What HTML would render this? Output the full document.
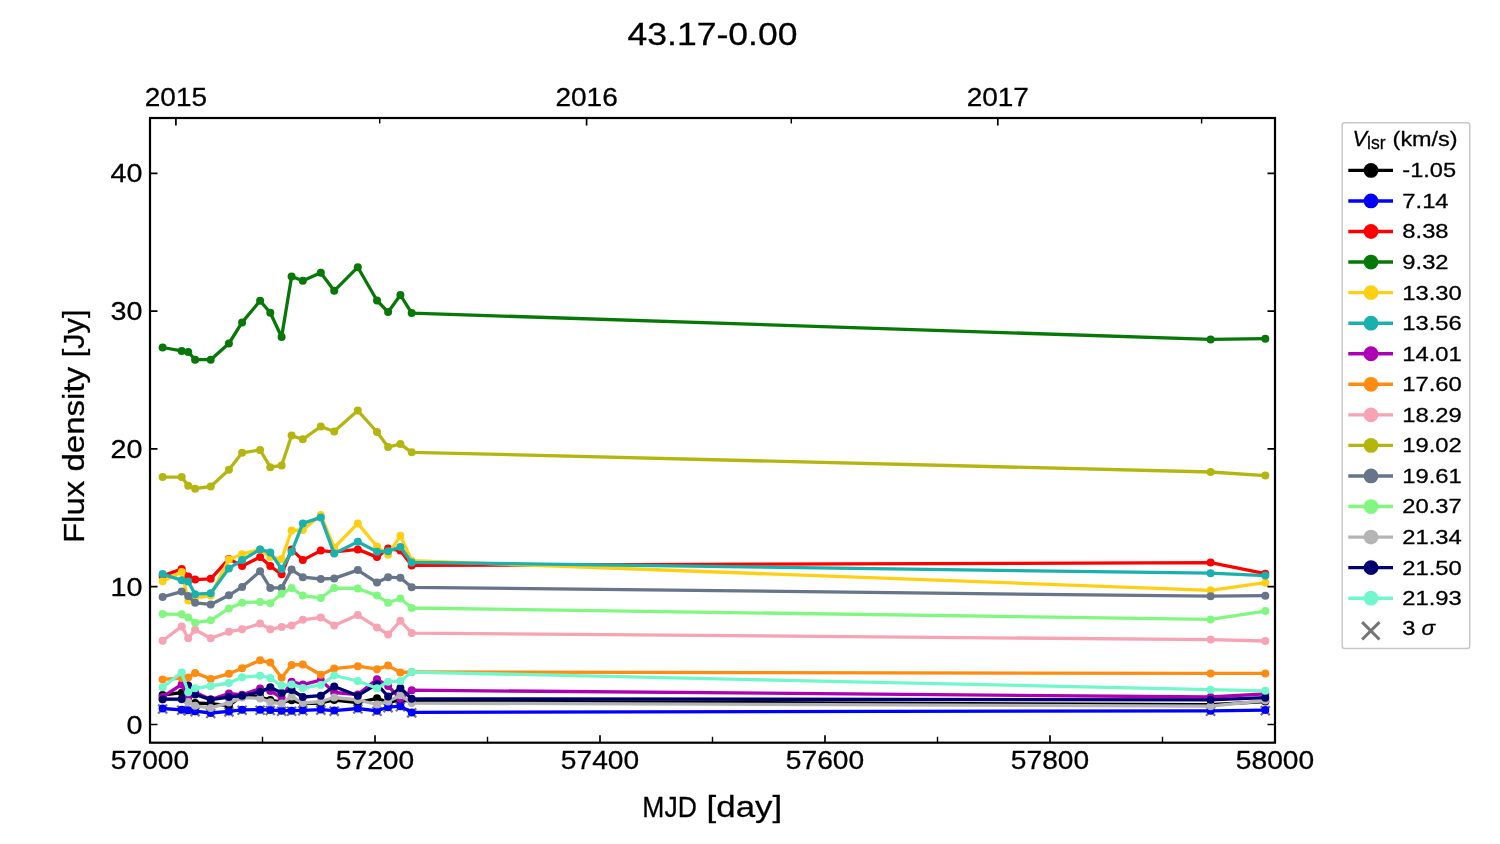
<!DOCTYPE html>
<html><head><meta charset="utf-8"><style>html,body{margin:0;padding:0;background:#fff;width:1500px;height:844px;overflow:hidden}</style></head>
<body>
<svg width="1500" height="844" viewBox="0 0 1500 844" style="display:block;will-change:transform">
<rect x="0" y="0" width="1500" height="844" fill="#ffffff"/>
<defs><clipPath id="ax"><rect x="150" y="118" width="1125" height="624.7"/></clipPath></defs>
<g clip-path="url(#ax)">
<path d="M158.1 704.5L167.1 713.5M158.1 713.5L167.1 704.5M177.2 705.8L186.2 714.8M177.2 714.8L186.2 705.8M183.7 706.2L192.7 715.2M183.7 715.2L192.7 706.2M190.6 707.2L199.6 716.2M190.6 716.2L199.6 707.2M206.2 709L215.2 718M206.2 718L215.2 709M224.4 707.4L233.4 716.4M224.4 716.4L233.4 707.4M237.6 705.8L246.6 714.8M237.6 714.8L246.6 705.8M255.6 705.7L264.6 714.7M255.6 714.7L264.6 705.7M265.8 706L274.8 715M265.8 715L274.8 706M277.1 706.7L286.1 715.7M277.1 715.7L286.1 706.7M287.1 706.7L296.1 715.7M287.1 715.7L296.1 706.7M298.3 706.3L307.3 715.3M298.3 715.3L307.3 706.3M316.3 705.6L325.3 714.6M316.3 714.6L325.3 705.6M329.7 706.6L338.7 715.6M329.7 715.6L338.7 706.6M353.3 704.5L362.3 713.5M353.3 713.5L362.3 704.5M372.5 706.8L381.5 715.8M372.5 715.8L381.5 706.8M383.6 703.2L392.6 712.2M383.6 712.2L392.6 703.2M395.9 702.2L404.9 711.2M395.9 711.2L404.9 702.2M407.2 708.4L416.2 717.4M407.2 717.4L416.2 708.4M1206.1 706.8L1215.1 715.8M1206.1 715.8L1215.1 706.8M1260.8 706.1L1269.8 715.1M1260.8 715.1L1269.8 706.1" stroke="#757575" stroke-width="2.3" fill="none"/>
<polyline points="162.6,695 181.7,692.7 188.2,701.3 195.1,703 210.7,703.7 228.9,705.7 242.1,695.5 260.1,697 270.3,700 281.6,702 291.6,700.3 302.8,703.5 320.8,703 334.2,700 357.8,702.7 377,698.3 388.1,702.3 400.4,700 411.7,701 1210.6,704.7 1265.3,701.6" fill="none" stroke="#000000" stroke-width="3.3" stroke-linejoin="round" stroke-linecap="butt"/>
<g fill="#000000"><circle cx="162.6" cy="695" r="4.0"/><circle cx="181.7" cy="692.7" r="4.0"/><circle cx="188.2" cy="701.3" r="4.0"/><circle cx="195.1" cy="703" r="4.0"/><circle cx="210.7" cy="703.7" r="4.0"/><circle cx="228.9" cy="705.7" r="4.0"/><circle cx="242.1" cy="695.5" r="4.0"/><circle cx="260.1" cy="697" r="4.0"/><circle cx="270.3" cy="700" r="4.0"/><circle cx="281.6" cy="702" r="4.0"/><circle cx="291.6" cy="700.3" r="4.0"/><circle cx="302.8" cy="703.5" r="4.0"/><circle cx="320.8" cy="703" r="4.0"/><circle cx="334.2" cy="700" r="4.0"/><circle cx="357.8" cy="702.7" r="4.0"/><circle cx="377" cy="698.3" r="4.0"/><circle cx="388.1" cy="702.3" r="4.0"/><circle cx="400.4" cy="700" r="4.0"/><circle cx="411.7" cy="701" r="4.0"/><circle cx="1210.6" cy="704.7" r="4.0"/><circle cx="1265.3" cy="701.6" r="4.0"/></g>
<polyline points="162.6,708.5 181.7,709.8 188.2,710.2 195.1,711.2 210.7,713 228.9,711.4 242.1,709.8 260.1,709.7 270.3,710 281.6,710.7 291.6,710.7 302.8,710.3 320.8,709.6 334.2,710.6 357.8,708.5 377,710.8 388.1,707.2 400.4,706.2 411.7,712.4 1210.6,710.8 1265.3,710.1" fill="none" stroke="#0000ff" stroke-width="3.3" stroke-linejoin="round" stroke-linecap="butt"/>
<g fill="#0000ff"><circle cx="162.6" cy="708.5" r="4.0"/><circle cx="181.7" cy="709.8" r="4.0"/><circle cx="188.2" cy="710.2" r="4.0"/><circle cx="195.1" cy="711.2" r="4.0"/><circle cx="210.7" cy="713" r="4.0"/><circle cx="228.9" cy="711.4" r="4.0"/><circle cx="242.1" cy="709.8" r="4.0"/><circle cx="260.1" cy="709.7" r="4.0"/><circle cx="270.3" cy="710" r="4.0"/><circle cx="281.6" cy="710.7" r="4.0"/><circle cx="291.6" cy="710.7" r="4.0"/><circle cx="302.8" cy="710.3" r="4.0"/><circle cx="320.8" cy="709.6" r="4.0"/><circle cx="334.2" cy="710.6" r="4.0"/><circle cx="357.8" cy="708.5" r="4.0"/><circle cx="377" cy="710.8" r="4.0"/><circle cx="388.1" cy="707.2" r="4.0"/><circle cx="400.4" cy="706.2" r="4.0"/><circle cx="411.7" cy="712.4" r="4.0"/><circle cx="1210.6" cy="710.8" r="4.0"/><circle cx="1265.3" cy="710.1" r="4.0"/></g>
<polyline points="162.6,575.9 181.7,569 188.2,576.6 195.1,579.6 210.7,578.8 228.9,558.9 242.1,566 260.1,557.1 270.3,566 281.6,574.3 291.6,549.4 302.8,560.1 320.8,550.6 334.2,551.8 357.8,549.4 377,557.1 388.1,548.5 400.4,550.6 411.7,565.4 1210.6,562.6 1265.3,573.7" fill="none" stroke="#ff0000" stroke-width="3.3" stroke-linejoin="round" stroke-linecap="butt"/>
<g fill="#ff0000"><circle cx="162.6" cy="575.9" r="4.0"/><circle cx="181.7" cy="569" r="4.0"/><circle cx="188.2" cy="576.6" r="4.0"/><circle cx="195.1" cy="579.6" r="4.0"/><circle cx="210.7" cy="578.8" r="4.0"/><circle cx="228.9" cy="558.9" r="4.0"/><circle cx="242.1" cy="566" r="4.0"/><circle cx="260.1" cy="557.1" r="4.0"/><circle cx="270.3" cy="566" r="4.0"/><circle cx="281.6" cy="574.3" r="4.0"/><circle cx="291.6" cy="549.4" r="4.0"/><circle cx="302.8" cy="560.1" r="4.0"/><circle cx="320.8" cy="550.6" r="4.0"/><circle cx="334.2" cy="551.8" r="4.0"/><circle cx="357.8" cy="549.4" r="4.0"/><circle cx="377" cy="557.1" r="4.0"/><circle cx="388.1" cy="548.5" r="4.0"/><circle cx="400.4" cy="550.6" r="4.0"/><circle cx="411.7" cy="565.4" r="4.0"/><circle cx="1210.6" cy="562.6" r="4.0"/><circle cx="1265.3" cy="573.7" r="4.0"/></g>
<polyline points="162.6,347.5 181.7,350.9 188.2,352 195.1,359.7 210.7,359.7 228.9,343.5 242.1,322.4 260.1,300.8 270.3,312.8 281.6,337 291.6,276.5 302.8,280.8 320.8,272.8 334.2,290.8 357.8,267.2 377,300.5 388.1,312.1 400.4,295 411.7,313.1 1210.6,339.4 1265.3,338.7" fill="none" stroke="#067806" stroke-width="3.3" stroke-linejoin="round" stroke-linecap="butt"/>
<g fill="#067806"><circle cx="162.6" cy="347.5" r="4.0"/><circle cx="181.7" cy="350.9" r="4.0"/><circle cx="188.2" cy="352" r="4.0"/><circle cx="195.1" cy="359.7" r="4.0"/><circle cx="210.7" cy="359.7" r="4.0"/><circle cx="228.9" cy="343.5" r="4.0"/><circle cx="242.1" cy="322.4" r="4.0"/><circle cx="260.1" cy="300.8" r="4.0"/><circle cx="270.3" cy="312.8" r="4.0"/><circle cx="281.6" cy="337" r="4.0"/><circle cx="291.6" cy="276.5" r="4.0"/><circle cx="302.8" cy="280.8" r="4.0"/><circle cx="320.8" cy="272.8" r="4.0"/><circle cx="334.2" cy="290.8" r="4.0"/><circle cx="357.8" cy="267.2" r="4.0"/><circle cx="377" cy="300.5" r="4.0"/><circle cx="388.1" cy="312.1" r="4.0"/><circle cx="400.4" cy="295" r="4.0"/><circle cx="411.7" cy="313.1" r="4.0"/><circle cx="1210.6" cy="339.4" r="4.0"/><circle cx="1265.3" cy="338.7" r="4.0"/></g>
<polyline points="162.6,581.2 181.7,572.1 188.2,600.5 195.1,597.8 210.7,595.6 228.9,559.5 242.1,554.2 260.1,549.4 270.3,557.1 281.6,559.2 291.6,530.5 302.8,529.9 320.8,515.1 334.2,547.6 357.8,523.4 377,546.5 388.1,554.7 400.4,535.8 411.7,560.7 1210.6,590.3 1265.3,582.7" fill="none" stroke="#ffcf14" stroke-width="3.3" stroke-linejoin="round" stroke-linecap="butt"/>
<g fill="#ffcf14"><circle cx="162.6" cy="581.2" r="4.0"/><circle cx="181.7" cy="572.1" r="4.0"/><circle cx="188.2" cy="600.5" r="4.0"/><circle cx="195.1" cy="597.8" r="4.0"/><circle cx="210.7" cy="595.6" r="4.0"/><circle cx="228.9" cy="559.5" r="4.0"/><circle cx="242.1" cy="554.2" r="4.0"/><circle cx="260.1" cy="549.4" r="4.0"/><circle cx="270.3" cy="557.1" r="4.0"/><circle cx="281.6" cy="559.2" r="4.0"/><circle cx="291.6" cy="530.5" r="4.0"/><circle cx="302.8" cy="529.9" r="4.0"/><circle cx="320.8" cy="515.1" r="4.0"/><circle cx="334.2" cy="547.6" r="4.0"/><circle cx="357.8" cy="523.4" r="4.0"/><circle cx="377" cy="546.5" r="4.0"/><circle cx="388.1" cy="554.7" r="4.0"/><circle cx="400.4" cy="535.8" r="4.0"/><circle cx="411.7" cy="560.7" r="4.0"/><circle cx="1210.6" cy="590.3" r="4.0"/><circle cx="1265.3" cy="582.7" r="4.0"/></g>
<polyline points="162.6,574.1 181.7,580.3 188.2,581.4 195.1,594.2 210.7,593.3 228.9,568.4 242.1,560.1 260.1,549.4 270.3,552.4 281.6,569 291.6,551.8 302.8,523.4 320.8,517.4 334.2,553.6 357.8,541.7 377,551.8 388.1,551.2 400.4,547 411.7,562.4 1210.6,573.2 1265.3,575.6" fill="none" stroke="#1ab0ad" stroke-width="3.3" stroke-linejoin="round" stroke-linecap="butt"/>
<g fill="#1ab0ad"><circle cx="162.6" cy="574.1" r="4.0"/><circle cx="181.7" cy="580.3" r="4.0"/><circle cx="188.2" cy="581.4" r="4.0"/><circle cx="195.1" cy="594.2" r="4.0"/><circle cx="210.7" cy="593.3" r="4.0"/><circle cx="228.9" cy="568.4" r="4.0"/><circle cx="242.1" cy="560.1" r="4.0"/><circle cx="260.1" cy="549.4" r="4.0"/><circle cx="270.3" cy="552.4" r="4.0"/><circle cx="281.6" cy="569" r="4.0"/><circle cx="291.6" cy="551.8" r="4.0"/><circle cx="302.8" cy="523.4" r="4.0"/><circle cx="320.8" cy="517.4" r="4.0"/><circle cx="334.2" cy="553.6" r="4.0"/><circle cx="357.8" cy="541.7" r="4.0"/><circle cx="377" cy="551.8" r="4.0"/><circle cx="388.1" cy="551.2" r="4.0"/><circle cx="400.4" cy="547" r="4.0"/><circle cx="411.7" cy="562.4" r="4.0"/><circle cx="1210.6" cy="573.2" r="4.0"/><circle cx="1265.3" cy="575.6" r="4.0"/></g>
<polyline points="162.6,697 181.7,684.4 188.2,697 195.1,692.2 210.7,699.5 228.9,693.5 242.1,694.8 260.1,688.5 270.3,691 281.6,697.6 291.6,681.7 302.8,684.6 320.8,680.1 334.2,692.5 357.8,694.5 377,679.3 388.1,686 400.4,698.8 411.7,690.2 1210.6,697 1265.3,693.9" fill="none" stroke="#ad00b4" stroke-width="3.3" stroke-linejoin="round" stroke-linecap="butt"/>
<g fill="#ad00b4"><circle cx="162.6" cy="697" r="4.0"/><circle cx="181.7" cy="684.4" r="4.0"/><circle cx="188.2" cy="697" r="4.0"/><circle cx="195.1" cy="692.2" r="4.0"/><circle cx="210.7" cy="699.5" r="4.0"/><circle cx="228.9" cy="693.5" r="4.0"/><circle cx="242.1" cy="694.8" r="4.0"/><circle cx="260.1" cy="688.5" r="4.0"/><circle cx="270.3" cy="691" r="4.0"/><circle cx="281.6" cy="697.6" r="4.0"/><circle cx="291.6" cy="681.7" r="4.0"/><circle cx="302.8" cy="684.6" r="4.0"/><circle cx="320.8" cy="680.1" r="4.0"/><circle cx="334.2" cy="692.5" r="4.0"/><circle cx="357.8" cy="694.5" r="4.0"/><circle cx="377" cy="679.3" r="4.0"/><circle cx="388.1" cy="686" r="4.0"/><circle cx="400.4" cy="698.8" r="4.0"/><circle cx="411.7" cy="690.2" r="4.0"/><circle cx="1210.6" cy="697" r="4.0"/><circle cx="1265.3" cy="693.9" r="4.0"/></g>
<polyline points="162.6,679.4 181.7,678 188.2,677.5 195.1,672.9 210.7,678.9 228.9,673.8 242.1,668.2 260.1,660.3 270.3,662.6 281.6,677.7 291.6,664.9 302.8,664.5 320.8,674.7 334.2,668.6 357.8,666.2 377,669.2 388.1,665.6 400.4,672.5 411.7,672 1210.6,673.4 1265.3,673.4" fill="none" stroke="#ff8c10" stroke-width="3.3" stroke-linejoin="round" stroke-linecap="butt"/>
<g fill="#ff8c10"><circle cx="162.6" cy="679.4" r="4.0"/><circle cx="181.7" cy="678" r="4.0"/><circle cx="188.2" cy="677.5" r="4.0"/><circle cx="195.1" cy="672.9" r="4.0"/><circle cx="210.7" cy="678.9" r="4.0"/><circle cx="228.9" cy="673.8" r="4.0"/><circle cx="242.1" cy="668.2" r="4.0"/><circle cx="260.1" cy="660.3" r="4.0"/><circle cx="270.3" cy="662.6" r="4.0"/><circle cx="281.6" cy="677.7" r="4.0"/><circle cx="291.6" cy="664.9" r="4.0"/><circle cx="302.8" cy="664.5" r="4.0"/><circle cx="320.8" cy="674.7" r="4.0"/><circle cx="334.2" cy="668.6" r="4.0"/><circle cx="357.8" cy="666.2" r="4.0"/><circle cx="377" cy="669.2" r="4.0"/><circle cx="388.1" cy="665.6" r="4.0"/><circle cx="400.4" cy="672.5" r="4.0"/><circle cx="411.7" cy="672" r="4.0"/><circle cx="1210.6" cy="673.4" r="4.0"/><circle cx="1265.3" cy="673.4" r="4.0"/></g>
<polyline points="162.6,640.7 181.7,626.4 188.2,638.3 195.1,629.8 210.7,638.3 228.9,631.7 242.1,629.3 260.1,623.6 270.3,629.3 281.6,626.9 291.6,625.5 302.8,619.8 320.8,617.4 334.2,625.5 357.8,615.1 377,627.4 388.1,634.5 400.4,620.8 411.7,633.1 1210.6,639.6 1265.3,641" fill="none" stroke="#f7a3b3" stroke-width="3.3" stroke-linejoin="round" stroke-linecap="butt"/>
<g fill="#f7a3b3"><circle cx="162.6" cy="640.7" r="4.0"/><circle cx="181.7" cy="626.4" r="4.0"/><circle cx="188.2" cy="638.3" r="4.0"/><circle cx="195.1" cy="629.8" r="4.0"/><circle cx="210.7" cy="638.3" r="4.0"/><circle cx="228.9" cy="631.7" r="4.0"/><circle cx="242.1" cy="629.3" r="4.0"/><circle cx="260.1" cy="623.6" r="4.0"/><circle cx="270.3" cy="629.3" r="4.0"/><circle cx="281.6" cy="626.9" r="4.0"/><circle cx="291.6" cy="625.5" r="4.0"/><circle cx="302.8" cy="619.8" r="4.0"/><circle cx="320.8" cy="617.4" r="4.0"/><circle cx="334.2" cy="625.5" r="4.0"/><circle cx="357.8" cy="615.1" r="4.0"/><circle cx="377" cy="627.4" r="4.0"/><circle cx="388.1" cy="634.5" r="4.0"/><circle cx="400.4" cy="620.8" r="4.0"/><circle cx="411.7" cy="633.1" r="4.0"/><circle cx="1210.6" cy="639.6" r="4.0"/><circle cx="1265.3" cy="641" r="4.0"/></g>
<polyline points="162.6,477.1 181.7,477.1 188.2,485.8 195.1,488.7 210.7,486.5 228.9,469.8 242.1,452.8 260.1,450 270.3,467.2 281.6,465.5 291.6,435.6 302.8,439.3 320.8,426.5 334.2,431.5 357.8,410.6 377,432 388.1,447 400.4,444.1 411.7,452.3 1210.6,472 1265.3,475.6" fill="none" stroke="#b5b510" stroke-width="3.3" stroke-linejoin="round" stroke-linecap="butt"/>
<g fill="#b5b510"><circle cx="162.6" cy="477.1" r="4.0"/><circle cx="181.7" cy="477.1" r="4.0"/><circle cx="188.2" cy="485.8" r="4.0"/><circle cx="195.1" cy="488.7" r="4.0"/><circle cx="210.7" cy="486.5" r="4.0"/><circle cx="228.9" cy="469.8" r="4.0"/><circle cx="242.1" cy="452.8" r="4.0"/><circle cx="260.1" cy="450" r="4.0"/><circle cx="270.3" cy="467.2" r="4.0"/><circle cx="281.6" cy="465.5" r="4.0"/><circle cx="291.6" cy="435.6" r="4.0"/><circle cx="302.8" cy="439.3" r="4.0"/><circle cx="320.8" cy="426.5" r="4.0"/><circle cx="334.2" cy="431.5" r="4.0"/><circle cx="357.8" cy="410.6" r="4.0"/><circle cx="377" cy="432" r="4.0"/><circle cx="388.1" cy="447" r="4.0"/><circle cx="400.4" cy="444.1" r="4.0"/><circle cx="411.7" cy="452.3" r="4.0"/><circle cx="1210.6" cy="472" r="4.0"/><circle cx="1265.3" cy="475.6" r="4.0"/></g>
<polyline points="162.6,596.9 181.7,591.6 188.2,595.9 195.1,602.8 210.7,604.4 228.9,595.3 242.1,586.9 260.1,571.3 270.3,587.9 281.6,587.9 291.6,569.6 302.8,577.2 320.8,579 334.2,578.4 357.8,570.1 377,582.6 388.1,577.2 400.4,577.8 411.7,587.3 1210.6,596.2 1265.3,595.7" fill="none" stroke="#667589" stroke-width="3.3" stroke-linejoin="round" stroke-linecap="butt"/>
<g fill="#667589"><circle cx="162.6" cy="596.9" r="4.0"/><circle cx="181.7" cy="591.6" r="4.0"/><circle cx="188.2" cy="595.9" r="4.0"/><circle cx="195.1" cy="602.8" r="4.0"/><circle cx="210.7" cy="604.4" r="4.0"/><circle cx="228.9" cy="595.3" r="4.0"/><circle cx="242.1" cy="586.9" r="4.0"/><circle cx="260.1" cy="571.3" r="4.0"/><circle cx="270.3" cy="587.9" r="4.0"/><circle cx="281.6" cy="587.9" r="4.0"/><circle cx="291.6" cy="569.6" r="4.0"/><circle cx="302.8" cy="577.2" r="4.0"/><circle cx="320.8" cy="579" r="4.0"/><circle cx="334.2" cy="578.4" r="4.0"/><circle cx="357.8" cy="570.1" r="4.0"/><circle cx="377" cy="582.6" r="4.0"/><circle cx="388.1" cy="577.2" r="4.0"/><circle cx="400.4" cy="577.8" r="4.0"/><circle cx="411.7" cy="587.3" r="4.0"/><circle cx="1210.6" cy="596.2" r="4.0"/><circle cx="1265.3" cy="595.7" r="4.0"/></g>
<polyline points="162.6,614.1 181.7,614.3 188.2,617.4 195.1,622.7 210.7,620.3 228.9,608.4 242.1,602.7 260.1,602 270.3,603.2 281.6,593.7 291.6,588.1 302.8,595.6 320.8,598 334.2,588.1 357.8,588.5 377,595.6 388.1,602.7 400.4,598.5 411.7,608 1210.6,619.4 1265.3,611.1" fill="none" stroke="#80f880" stroke-width="3.3" stroke-linejoin="round" stroke-linecap="butt"/>
<g fill="#80f880"><circle cx="162.6" cy="614.1" r="4.0"/><circle cx="181.7" cy="614.3" r="4.0"/><circle cx="188.2" cy="617.4" r="4.0"/><circle cx="195.1" cy="622.7" r="4.0"/><circle cx="210.7" cy="620.3" r="4.0"/><circle cx="228.9" cy="608.4" r="4.0"/><circle cx="242.1" cy="602.7" r="4.0"/><circle cx="260.1" cy="602" r="4.0"/><circle cx="270.3" cy="603.2" r="4.0"/><circle cx="281.6" cy="593.7" r="4.0"/><circle cx="291.6" cy="588.1" r="4.0"/><circle cx="302.8" cy="595.6" r="4.0"/><circle cx="320.8" cy="598" r="4.0"/><circle cx="334.2" cy="588.1" r="4.0"/><circle cx="357.8" cy="588.5" r="4.0"/><circle cx="377" cy="595.6" r="4.0"/><circle cx="388.1" cy="602.7" r="4.0"/><circle cx="400.4" cy="598.5" r="4.0"/><circle cx="411.7" cy="608" r="4.0"/><circle cx="1210.6" cy="619.4" r="4.0"/><circle cx="1265.3" cy="611.1" r="4.0"/></g>
<polyline points="162.6,699.5 181.7,699.5 188.2,702 195.1,705.8 210.7,707.9 228.9,702.6 242.1,697.6 260.1,698.4 270.3,702.3 281.6,703.5 291.6,696.5 302.8,703.1 320.8,701.5 334.2,697.5 357.8,700 377,704.5 388.1,701.5 400.4,695.3 411.7,703.1 1210.6,706.2 1265.3,700.5" fill="none" stroke="#b4b4b4" stroke-width="3.3" stroke-linejoin="round" stroke-linecap="butt"/>
<g fill="#b4b4b4"><circle cx="162.6" cy="699.5" r="4.0"/><circle cx="181.7" cy="699.5" r="4.0"/><circle cx="188.2" cy="702" r="4.0"/><circle cx="195.1" cy="705.8" r="4.0"/><circle cx="210.7" cy="707.9" r="4.0"/><circle cx="228.9" cy="702.6" r="4.0"/><circle cx="242.1" cy="697.6" r="4.0"/><circle cx="260.1" cy="698.4" r="4.0"/><circle cx="270.3" cy="702.3" r="4.0"/><circle cx="281.6" cy="703.5" r="4.0"/><circle cx="291.6" cy="696.5" r="4.0"/><circle cx="302.8" cy="703.1" r="4.0"/><circle cx="320.8" cy="701.5" r="4.0"/><circle cx="334.2" cy="697.5" r="4.0"/><circle cx="357.8" cy="700" r="4.0"/><circle cx="377" cy="704.5" r="4.0"/><circle cx="388.1" cy="701.5" r="4.0"/><circle cx="400.4" cy="695.3" r="4.0"/><circle cx="411.7" cy="703.1" r="4.0"/><circle cx="1210.6" cy="706.2" r="4.0"/><circle cx="1265.3" cy="700.5" r="4.0"/></g>
<polyline points="162.6,699.2 181.7,699 188.2,685.5 195.1,694.5 210.7,699.6 228.9,697 242.1,695.7 260.1,692 270.3,687.3 281.6,693 291.6,690 302.8,697 320.8,695.7 334.2,686.5 357.8,695.7 377,684.2 388.1,696.5 400.4,688 411.7,698.8 1210.6,699.8 1265.3,697.7" fill="none" stroke="#000070" stroke-width="3.3" stroke-linejoin="round" stroke-linecap="butt"/>
<g fill="#000070"><circle cx="162.6" cy="699.2" r="4.0"/><circle cx="181.7" cy="699" r="4.0"/><circle cx="188.2" cy="685.5" r="4.0"/><circle cx="195.1" cy="694.5" r="4.0"/><circle cx="210.7" cy="699.6" r="4.0"/><circle cx="228.9" cy="697" r="4.0"/><circle cx="242.1" cy="695.7" r="4.0"/><circle cx="260.1" cy="692" r="4.0"/><circle cx="270.3" cy="687.3" r="4.0"/><circle cx="281.6" cy="693" r="4.0"/><circle cx="291.6" cy="690" r="4.0"/><circle cx="302.8" cy="697" r="4.0"/><circle cx="320.8" cy="695.7" r="4.0"/><circle cx="334.2" cy="686.5" r="4.0"/><circle cx="357.8" cy="695.7" r="4.0"/><circle cx="377" cy="684.2" r="4.0"/><circle cx="388.1" cy="696.5" r="4.0"/><circle cx="400.4" cy="688" r="4.0"/><circle cx="411.7" cy="698.8" r="4.0"/><circle cx="1210.6" cy="699.8" r="4.0"/><circle cx="1265.3" cy="697.7" r="4.0"/></g>
<polyline points="162.6,687.2 181.7,672.5 188.2,692.2 195.1,688.3 210.7,686 228.9,683 242.1,677.2 260.1,675.7 270.3,678 281.6,685.6 291.6,684.4 302.8,687.9 320.8,685 334.2,675.5 357.8,681 377,688.3 388.1,681.7 400.4,681 411.7,672.1 1210.6,689.7 1265.3,690.8" fill="none" stroke="#70f8cc" stroke-width="3.3" stroke-linejoin="round" stroke-linecap="butt"/>
<g fill="#70f8cc"><circle cx="162.6" cy="687.2" r="4.0"/><circle cx="181.7" cy="672.5" r="4.0"/><circle cx="188.2" cy="692.2" r="4.0"/><circle cx="195.1" cy="688.3" r="4.0"/><circle cx="210.7" cy="686" r="4.0"/><circle cx="228.9" cy="683" r="4.0"/><circle cx="242.1" cy="677.2" r="4.0"/><circle cx="260.1" cy="675.7" r="4.0"/><circle cx="270.3" cy="678" r="4.0"/><circle cx="281.6" cy="685.6" r="4.0"/><circle cx="291.6" cy="684.4" r="4.0"/><circle cx="302.8" cy="687.9" r="4.0"/><circle cx="320.8" cy="685" r="4.0"/><circle cx="334.2" cy="675.5" r="4.0"/><circle cx="357.8" cy="681" r="4.0"/><circle cx="377" cy="688.3" r="4.0"/><circle cx="388.1" cy="681.7" r="4.0"/><circle cx="400.4" cy="681" r="4.0"/><circle cx="411.7" cy="672.1" r="4.0"/><circle cx="1210.6" cy="689.7" r="4.0"/><circle cx="1265.3" cy="690.8" r="4.0"/></g>
</g>
<path d="M375 742.7V735.2M600 742.7V735.2M825 742.7V735.2M1050 742.7V735.2M150 724.5H157.5M1275 724.5H1267.5M150 586.72H157.5M1275 586.72H1267.5M150 448.94H157.5M1275 448.94H1267.5M150 311.16H157.5M1275 311.16H1267.5M150 173.38H157.5M1275 173.38H1267.5M175.9 118V125.5M586.6 118V125.5M997.8 118V125.5" stroke="#000" stroke-width="1.7" fill="none"/>
<path d="M262.5 742.7V736.7M487.5 742.7V736.7M712.5 742.7V736.7M937.5 742.7V736.7M1162.5 742.7V736.7M379.7 118V123.5M791.3 118V123.5M1201.6 118V123.5" stroke="#000" stroke-width="1.4" fill="none"/>
<rect x="150" y="118" width="1125" height="624.7" fill="none" stroke="#000" stroke-width="2.2"/>
<g font-family='"Liberation Sans", sans-serif' fill="#000">
<text x="712.5" y="45.2" font-size="31.5" text-anchor="middle" stroke="#000" stroke-width="0.28" textLength="170" lengthAdjust="spacingAndGlyphs">43.17-0.00</text>
<text x="150" y="768.6" font-size="25.3" text-anchor="middle" stroke="#000" stroke-width="0.28" textLength="78.3" lengthAdjust="spacingAndGlyphs">57000</text>
<text x="375" y="768.6" font-size="25.3" text-anchor="middle" stroke="#000" stroke-width="0.28" textLength="78.3" lengthAdjust="spacingAndGlyphs">57200</text>
<text x="600" y="768.6" font-size="25.3" text-anchor="middle" stroke="#000" stroke-width="0.28" textLength="78.3" lengthAdjust="spacingAndGlyphs">57400</text>
<text x="825" y="768.6" font-size="25.3" text-anchor="middle" stroke="#000" stroke-width="0.28" textLength="78.3" lengthAdjust="spacingAndGlyphs">57600</text>
<text x="1050" y="768.6" font-size="25.3" text-anchor="middle" stroke="#000" stroke-width="0.28" textLength="78.3" lengthAdjust="spacingAndGlyphs">57800</text>
<text x="1275" y="768.6" font-size="25.3" text-anchor="middle" stroke="#000" stroke-width="0.28" textLength="78.3" lengthAdjust="spacingAndGlyphs">58000</text>
<text x="142.5" y="733.6" font-size="25.3" text-anchor="end" stroke="#000" stroke-width="0.28" textLength="16" lengthAdjust="spacingAndGlyphs">0</text>
<text x="142.5" y="595.82" font-size="25.3" text-anchor="end" stroke="#000" stroke-width="0.28" textLength="32" lengthAdjust="spacingAndGlyphs">10</text>
<text x="142.5" y="458.04" font-size="25.3" text-anchor="end" stroke="#000" stroke-width="0.28" textLength="32" lengthAdjust="spacingAndGlyphs">20</text>
<text x="142.5" y="320.26" font-size="25.3" text-anchor="end" stroke="#000" stroke-width="0.28" textLength="32" lengthAdjust="spacingAndGlyphs">30</text>
<text x="142.5" y="182.48" font-size="25.3" text-anchor="end" stroke="#000" stroke-width="0.28" textLength="32" lengthAdjust="spacingAndGlyphs">40</text>
<text x="175.9" y="106.3" font-size="25.3" text-anchor="middle" stroke="#000" stroke-width="0.28" textLength="62.3" lengthAdjust="spacingAndGlyphs">2015</text>
<text x="586.6" y="106.3" font-size="25.3" text-anchor="middle" stroke="#000" stroke-width="0.28" textLength="62.3" lengthAdjust="spacingAndGlyphs">2016</text>
<text x="997.8" y="106.3" font-size="25.3" text-anchor="middle" stroke="#000" stroke-width="0.28" textLength="62.3" lengthAdjust="spacingAndGlyphs">2017</text>
<text x="642.3" y="816.8" font-size="30" text-anchor="start" stroke="#000" stroke-width="0.28" textLength="54.5" lengthAdjust="spacingAndGlyphs">MJD</text>
<text x="706.6" y="816.8" font-size="30" text-anchor="start" stroke="#000" stroke-width="0.28" textLength="75.5" lengthAdjust="spacingAndGlyphs">[day]</text>
<g transform="translate(83.9 0) rotate(-90)"><text x="-543.1" y="0" font-size="30" text-anchor="start" stroke="#000" stroke-width="0.28" textLength="176.2" lengthAdjust="spacingAndGlyphs">Flux density</text><text x="-357.2" y="0" font-size="30" text-anchor="start" stroke="#000" stroke-width="0.28" textLength="47.6" lengthAdjust="spacingAndGlyphs">[Jy]</text></g>
</g>
<rect x="1342.2" y="122.7" width="127.6" height="525.9" rx="2.5" ry="2.5" fill="#fff" fill-opacity="0.8" stroke="#c8c8c8" stroke-width="1.5"/>
<g font-family='"Liberation Sans", sans-serif' fill="#000">
<text x="1352.6" y="146.2" font-size="21.8" text-anchor="start" stroke="#000" stroke-width="0.28" textLength="14.6" lengthAdjust="spacingAndGlyphs" font-style="italic">V</text>
<text x="1367" y="149.4" font-size="18.5" text-anchor="start" stroke="#000" stroke-width="0.28" textLength="18.5" lengthAdjust="spacingAndGlyphs">lsr</text>
<text x="1392.6" y="146" font-size="20.8" text-anchor="start" stroke="#000" stroke-width="0.28" textLength="65" lengthAdjust="spacingAndGlyphs">(km/s)</text>
<path d="M1348.3 170.4H1393" stroke="#000000" stroke-width="3.4"/>
<circle cx="1371" cy="170.4" r="7.4" fill="#000000"/>
<text x="1402.3" y="177.3" font-size="20.8" text-anchor="start" stroke="#000" stroke-width="0.28" textLength="53.82" lengthAdjust="spacingAndGlyphs">-1.05</text>
<path d="M1348.3 200.96H1393" stroke="#0000ff" stroke-width="3.4"/>
<circle cx="1371" cy="200.96" r="7.4" fill="#0000ff"/>
<text x="1402.3" y="207.86" font-size="20.8" text-anchor="start" stroke="#000" stroke-width="0.28" textLength="46.31" lengthAdjust="spacingAndGlyphs">7.14</text>
<path d="M1348.3 231.51H1393" stroke="#ff0000" stroke-width="3.4"/>
<circle cx="1371" cy="231.51" r="7.4" fill="#ff0000"/>
<text x="1402.3" y="238.41" font-size="20.8" text-anchor="start" stroke="#000" stroke-width="0.28" textLength="46.31" lengthAdjust="spacingAndGlyphs">8.38</text>
<path d="M1348.3 262.07H1393" stroke="#067806" stroke-width="3.4"/>
<circle cx="1371" cy="262.07" r="7.4" fill="#067806"/>
<text x="1402.3" y="268.97" font-size="20.8" text-anchor="start" stroke="#000" stroke-width="0.28" textLength="46.31" lengthAdjust="spacingAndGlyphs">9.32</text>
<path d="M1348.3 292.63H1393" stroke="#ffcf14" stroke-width="3.4"/>
<circle cx="1371" cy="292.63" r="7.4" fill="#ffcf14"/>
<text x="1402.3" y="299.53" font-size="20.8" text-anchor="start" stroke="#000" stroke-width="0.28" textLength="59.55" lengthAdjust="spacingAndGlyphs">13.30</text>
<path d="M1348.3 323.19H1393" stroke="#1ab0ad" stroke-width="3.4"/>
<circle cx="1371" cy="323.19" r="7.4" fill="#1ab0ad"/>
<text x="1402.3" y="330.08" font-size="20.8" text-anchor="start" stroke="#000" stroke-width="0.28" textLength="59.55" lengthAdjust="spacingAndGlyphs">13.56</text>
<path d="M1348.3 353.74H1393" stroke="#ad00b4" stroke-width="3.4"/>
<circle cx="1371" cy="353.74" r="7.4" fill="#ad00b4"/>
<text x="1402.3" y="360.64" font-size="20.8" text-anchor="start" stroke="#000" stroke-width="0.28" textLength="59.55" lengthAdjust="spacingAndGlyphs">14.01</text>
<path d="M1348.3 384.3H1393" stroke="#ff8c10" stroke-width="3.4"/>
<circle cx="1371" cy="384.3" r="7.4" fill="#ff8c10"/>
<text x="1402.3" y="391.2" font-size="20.8" text-anchor="start" stroke="#000" stroke-width="0.28" textLength="59.55" lengthAdjust="spacingAndGlyphs">17.60</text>
<path d="M1348.3 414.86H1393" stroke="#f7a3b3" stroke-width="3.4"/>
<circle cx="1371" cy="414.86" r="7.4" fill="#f7a3b3"/>
<text x="1402.3" y="421.76" font-size="20.8" text-anchor="start" stroke="#000" stroke-width="0.28" textLength="59.55" lengthAdjust="spacingAndGlyphs">18.29</text>
<path d="M1348.3 445.41H1393" stroke="#b5b510" stroke-width="3.4"/>
<circle cx="1371" cy="445.41" r="7.4" fill="#b5b510"/>
<text x="1402.3" y="452.31" font-size="20.8" text-anchor="start" stroke="#000" stroke-width="0.28" textLength="59.55" lengthAdjust="spacingAndGlyphs">19.02</text>
<path d="M1348.3 475.97H1393" stroke="#667589" stroke-width="3.4"/>
<circle cx="1371" cy="475.97" r="7.4" fill="#667589"/>
<text x="1402.3" y="482.87" font-size="20.8" text-anchor="start" stroke="#000" stroke-width="0.28" textLength="59.55" lengthAdjust="spacingAndGlyphs">19.61</text>
<path d="M1348.3 506.53H1393" stroke="#80f880" stroke-width="3.4"/>
<circle cx="1371" cy="506.53" r="7.4" fill="#80f880"/>
<text x="1402.3" y="513.43" font-size="20.8" text-anchor="start" stroke="#000" stroke-width="0.28" textLength="59.55" lengthAdjust="spacingAndGlyphs">20.37</text>
<path d="M1348.3 537.08H1393" stroke="#b4b4b4" stroke-width="3.4"/>
<circle cx="1371" cy="537.08" r="7.4" fill="#b4b4b4"/>
<text x="1402.3" y="543.98" font-size="20.8" text-anchor="start" stroke="#000" stroke-width="0.28" textLength="59.55" lengthAdjust="spacingAndGlyphs">21.34</text>
<path d="M1348.3 567.64H1393" stroke="#000070" stroke-width="3.4"/>
<circle cx="1371" cy="567.64" r="7.4" fill="#000070"/>
<text x="1402.3" y="574.54" font-size="20.8" text-anchor="start" stroke="#000" stroke-width="0.28" textLength="59.55" lengthAdjust="spacingAndGlyphs">21.50</text>
<path d="M1348.3 598.2H1393" stroke="#70f8cc" stroke-width="3.4"/>
<circle cx="1371" cy="598.2" r="7.4" fill="#70f8cc"/>
<text x="1402.3" y="605.1" font-size="20.8" text-anchor="start" stroke="#000" stroke-width="0.28" textLength="59.55" lengthAdjust="spacingAndGlyphs">21.93</text>
<path d="M1362.1 622.1L1379.5 639.5M1362.1 639.5L1379.5 622.1" stroke="#757575" stroke-width="3"/>
<text x="1402.2" y="635" font-size="20.8" text-anchor="start" stroke="#000" stroke-width="0.28" textLength="13.2" lengthAdjust="spacingAndGlyphs">3</text>
<text x="1421.5" y="635" font-size="20.8" text-anchor="start" stroke="#000" stroke-width="0.28" textLength="13.5" lengthAdjust="spacingAndGlyphs" font-style="italic">σ</text>
</g>
</svg>
</body></html>
